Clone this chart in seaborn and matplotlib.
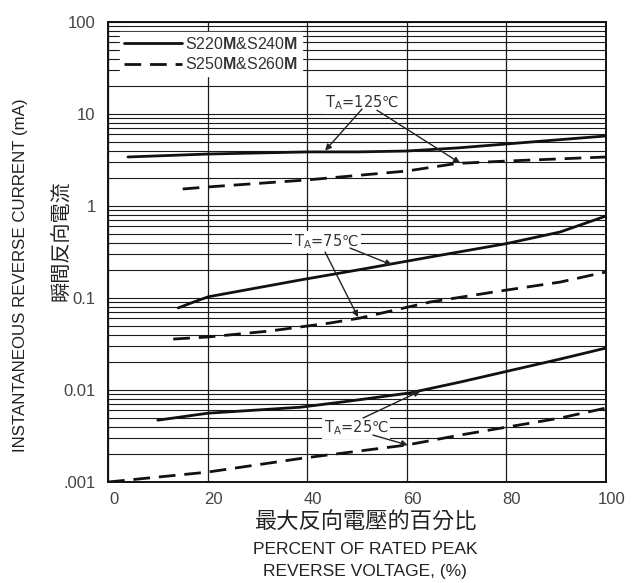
import matplotlib.pyplot as plt
import numpy as np
import pandas as pd
import seaborn as sns
from matplotlib.ticker import FixedLocator, FixedFormatter, LogLocator, NullFormatter
from matplotlib.transforms import ScaledTranslation

# percent of rated peak reverse voltage (%) vs instantaneous reverse current (mA)
x_125_solid = [4, 20, 40, 50, 60, 70, 80, 90, 100]
y_125_solid = [3.41, 3.67, 3.87, 3.87, 3.96, 4.27, 4.72, 5.22, 5.77]
x_125_dash = [15, 20, 40, 60, 70, 80, 100]
y_125_dash = [1.53, 1.61, 1.92, 2.40, 2.90, 3.08, 3.41]

x_75_solid = [14.1, 17.1, 20.1, 38.6, 50, 64.7, 80, 90.8, 100]
y_75_solid = [0.078, 0.090, 0.103, 0.157, 0.201, 0.279, 0.39, 0.522, 0.778]
x_75_dash = [13.1, 20.1, 32.5, 44.6, 50.6, 64.7, 78.7, 90.8, 100]
y_75_dash = [0.0358, 0.0377, 0.0438, 0.0535, 0.0606, 0.0905, 0.119, 0.149, 0.192]

x_25_solid = [10, 20.1, 38.6, 48.6, 60.6, 70.7, 90.8, 100]
y_25_solid = [0.0047, 0.0056, 0.0065, 0.0076, 0.0093, 0.0122, 0.0217, 0.0286]
x_25_dash = [0, 19.9, 39.2, 60.1, 70.7, 90.8, 100]
y_25_dash = [0.001, 0.00128, 0.00182, 0.00253, 0.00324, 0.00496, 0.00637]

y_ticks = [0.001, 0.01, 0.1, 1, 10, 100]
y_tick_labels = [".001", "0.01", "0.1", "1", "10", "100"]
x_ticks = [0, 20, 40, 60, 80, 100]

legend_solid = r"S220$\mathbf{M}$&S240$\mathbf{M}$"
legend_dash = r"S250$\mathbf{M}$&S260$\mathbf{M}$"

# (label, text position, [(arrow start, arrow target), ...])
notes = [
    (r"T$_\mathregular{A}$=125℃", (51.0, 13.2),
     [((51.0, 11.3), (43.6, 4.0)), ((54.0, 11.0), (70.7, 2.93))]),
    (r"T$_\mathregular{A}$=75℃", (43.8, 0.407),
     [((43.6, 0.316), (50.2, 0.062)), ((48.6, 0.349), (57.0, 0.229))]),
    (r"T$_\mathregular{A}$=25℃", (49.8, 0.00386),
     [((51.2, 0.00496), (62.7, 0.00975)), ((53.2, 0.00324), (60.2, 0.00252))]),
]

sns.set_style("white")
plt.rcParams["font.family"] = ["Liberation Sans", "DejaVu Sans", "Noto Sans CJK TC"]
plt.rcParams["mathtext.fontset"] = "custom"
plt.rcParams["mathtext.rm"] = "Liberation Sans"
plt.rcParams["mathtext.bf"] = "Liberation Sans:bold"

fig = plt.figure(figsize=(6.32, 5.83), dpi=100)
ax = fig.add_axes([0.1709, 0.1732, 0.7880, 0.7891])

curves = [
    (x_125_solid, y_125_solid, "-", legend_solid),
    (x_125_dash, y_125_dash, "--", legend_dash),
    (x_75_solid, y_75_solid, "-", None),
    (x_75_dash, y_75_dash, "--", None),
    (x_25_solid, y_25_solid, "-", None),
    (x_25_dash, y_25_dash, "--", None),
]
for xs, ys, ls, lab in curves:
    df = pd.DataFrame({"x": xs, "y": ys})
    line = sns.lineplot(data=df, x="x", y="y", ax=ax, color="#111111",
                        linewidth=2.0, label=lab, estimator=None, sort=False)
    if ls == "--":
        line.lines[-1].set_dashes((6, 3.2))

ax.set_yscale("log")
ax.set_xlim(0, 100)
ax.set_ylim(0.001, 100)

ax.yaxis.set_major_locator(FixedLocator(y_ticks))
ax.yaxis.set_major_formatter(FixedFormatter(y_tick_labels))
ax.yaxis.set_minor_locator(LogLocator(base=10, subs=range(2, 10)))
ax.yaxis.set_minor_formatter(NullFormatter())
ax.xaxis.set_major_locator(FixedLocator(x_ticks))

ax.grid(True, which="both", axis="y", color="#1a1a1a", linewidth=0.8)
ax.grid(True, which="major", axis="x", color="#1a1a1a", linewidth=0.9)
ax.tick_params(which="both", length=0)
ax.tick_params(axis="y", labelsize=12, labelcolor="#444444", pad=9)
ax.tick_params(axis="x", labelsize=12, labelcolor="#444444", pad=7)
shift = ScaledTranslation(4 / 72, 0, fig.dpi_scale_trans)
for lbl in ax.get_xticklabels():
    lbl.set_transform(lbl.get_transform() + shift)
for sp in ax.spines.values():
    sp.set_color("#111111")
    sp.set_linewidth(1.4)
ax.set_xlabel("")
ax.set_ylabel("")

leg = ax.legend(loc="upper left", bbox_to_anchor=(0.018, 0.986), fontsize=11.5,
                handlelength=3.6, handletextpad=0.2, labelspacing=0.3,
                borderpad=0.25, borderaxespad=0.2, frameon=True, fancybox=False)
leg.get_frame().set_facecolor("white")
leg.get_frame().set_edgecolor("white")
leg.get_frame().set_alpha(1)
for t in leg.get_texts():
    t.set_color("#333333")

for label, pos, arrows in notes:
    ax.text(pos[0], pos[1], label, ha="center", va="center", fontsize=10.5,
            color="#333333", zorder=5, family="DejaVu Sans",
            math_fontfamily="custom",
            bbox=dict(facecolor="white", edgecolor="none", pad=1.5))
    for start, target in arrows:
        ax.annotate("", xy=target, xytext=start, zorder=6,
                    arrowprops=dict(arrowstyle="-|>", color="#222222", lw=1.0,
                                    mutation_scale=9, shrinkA=0, shrinkB=0))

# x-axis caption
fig.text(0.5775, 0.105, "最大反向電壓的百分比", ha="center", va="center",
         fontsize=16, color="#222222", family=["Noto Sans CJK TC"],
         fontweight="light")
fig.text(0.5775, 0.057, "PERCENT OF RATED PEAK", ha="center", va="center",
         fontsize=12.5, color="#222222")
fig.text(0.5775, 0.019, "REVERSE VOLTAGE, (%)", ha="center", va="center",
         fontsize=12.5, color="#222222")

# y-axis caption
fig.text(0.032, 0.528, "INSTANTANEOUS REVERSE CURRENT (mA)", rotation=90,
         ha="center", va="center", fontsize=12.2, color="#222222")
fig.text(0.098, 0.588, "瞬間反向電流", rotation=90, ha="center", va="center",
         fontsize=14.5, color="#222222", family=["Noto Sans CJK TC"],
         fontweight="light")

fig.savefig("out.png", dpi=100)
